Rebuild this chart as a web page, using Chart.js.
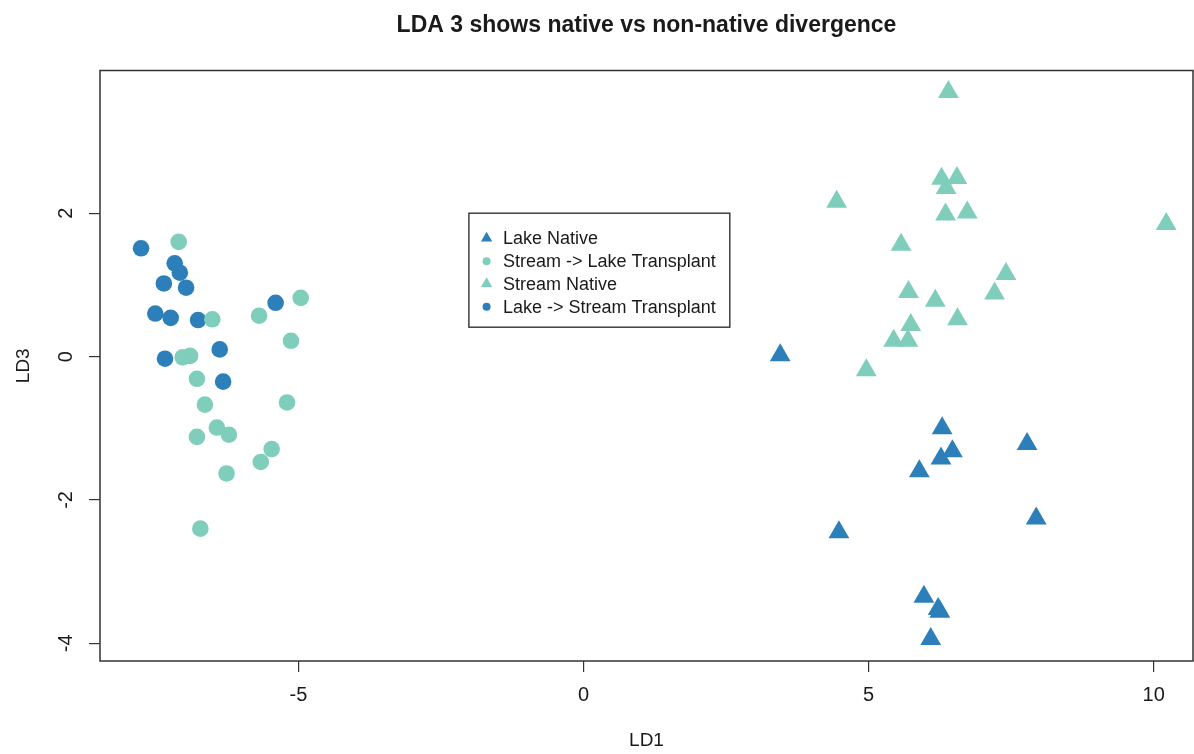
<!DOCTYPE html>
<html><head><meta charset="utf-8">
<script src="https://cdn.jsdelivr.net/npm/chart.js@4/dist/chart.umd.min.js"></script>
<style>html,body{margin:0;padding:0;background:#fff}canvas{display:block}</style>
</head><body>
<canvas id="c" width="1194" height="754"></canvas>
<script>
const chartTitle = 'LDA 3 shows native vs non-native divergence';
const xTitle = 'LD1';
const yTitle = 'LD3';
const xTicks = [-5, 0, 5, 10];
const yTicks = [-4, -2, 0, 2];
const seriesNames = ['Lake Native', 'Stream -> Lake Transplant', 'Stream Native', 'Lake -> Stream Transplant'];

const lakeNativeX = [3.45, 6.29, 7.78, 6.47, 6.27, 5.89, 7.94, 4.48, 5.97, 6.22, 6.25, 6.09];
const lakeNativeY = [0.02, -1.00, -1.22, -1.32, -1.42, -1.60, -2.26, -2.45, -3.35, -3.52, -3.56, -3.94];

const streamToLakeX = [-7.10, -6.51, -5.69, -4.96, -5.13, -7.03, -6.90, -6.78, -6.64, -5.20, -6.43, -6.22, -6.78, -5.47, -5.66, -6.26, -6.72];
const streamToLakeY = [1.60, 0.52, 0.57, 0.82, 0.22, -0.01, 0.01, -0.31, -0.67, -0.64, -0.99, -1.09, -1.12, -1.29, -1.47, -1.63, -2.40];

const streamNativeX = [6.40, 6.28, 6.55, 6.36, 4.44, 6.35, 6.73, 10.22, 5.57, 7.41, 7.21, 5.70, 6.17, 6.56, 5.74, 5.44, 5.69, 4.96];
const streamNativeY = [3.69, 2.48, 2.49, 2.35, 2.16, 1.98, 2.01, 1.85, 1.56, 1.15, 0.88, 0.90, 0.78, 0.52, 0.44, 0.22, 0.22, -0.19];

const lakeToStreamX = [-7.76, -7.17, -7.08, -7.36, -6.97, -7.51, -7.24, -6.76, -5.40, -6.38, -7.34, -6.32];
const lakeToStreamY = [1.51, 1.30, 1.17, 1.02, 0.96, 0.60, 0.54, 0.51, 0.75, 0.10, -0.03, -0.35];

const darkBlue = '#2c7fb8';
const teal = '#7fcdbb';
const pts = (xs, ys) => xs.map((x, i) => ({x: x, y: ys[i]}));

const seriesStyle = [
  {color: darkBlue, shape: 'triangle', r: 12, lr: 6.5},
  {color: teal, shape: 'circle', r: 8.3, lr: 4},
  {color: teal, shape: 'triangle', r: 12, lr: 6.5},
  {color: darkBlue, shape: 'circle', r: 8.3, lr: 4}
];
const seriesData = [
  pts(lakeNativeX, lakeNativeY),
  pts(streamToLakeX, streamToLakeY),
  pts(streamNativeX, streamNativeY),
  pts(lakeToStreamX, lakeToStreamY)
];

const textColor = '#1a1a1a';
const fontFam = '"Liberation Sans", Arial, sans-serif';

const decor = {
  id: 'decor',
  afterDatasetsDraw(chart) {
    const ctx = chart.ctx;
    const a = chart.chartArea;
    const xs = chart.scales.x, ys = chart.scales.y;
    ctx.save();
    // box
    ctx.strokeStyle = '#333';
    ctx.lineWidth = 1.5;
    ctx.strokeRect(a.left, a.top, a.right - a.left, a.bottom - a.top);
    ctx.fillStyle = textColor;
    ctx.font = '20px ' + fontFam;
    ctx.textAlign = 'center';
    ctx.textBaseline = 'middle';
    // x tick labels
    xTicks.forEach(v => {
      ctx.fillText(String(v), xs.getPixelForValue(v), a.bottom + 34);
    });
    // rotated y tick labels
    yTicks.forEach(v => {
      const py = ys.getPixelForValue(v);
      ctx.save();
      ctx.translate(66, py);
      ctx.rotate(-Math.PI / 2);
      ctx.fillText(String(v), 0, 0);
      ctx.restore();
    });
    // title
    ctx.font = 'bold 23px ' + fontFam;
    ctx.fillText(chartTitle, (a.left + a.right) / 2, 26);
    // legend anchored at data coords (-2, 2)
    const lx = xs.getPixelForValue(-2.01);
    const ly = ys.getPixelForValue(2.0);
    ctx.font = '18px ' + fontFam;
    let maxW = 0;
    seriesNames.forEach(n => { maxW = Math.max(maxW, ctx.measureText(n).width); });
    const boxW = 34 + maxW + 14;
    const boxH = 114;
    ctx.fillStyle = '#fff';
    ctx.fillRect(lx, ly, boxW, boxH);
    ctx.strokeStyle = '#222';
    ctx.lineWidth = 1.3;
    ctx.strokeRect(lx, ly, boxW, boxH);
    const rows = [25, 48, 70.5, 93.5];
    seriesNames.forEach((n, i) => {
      const st = seriesStyle[i];
      const cy = ly + rows[i];
      ctx.fillStyle = st.color;
      ctx.beginPath();
      if (st.shape === 'circle') {
        ctx.arc(lx + 17.7, cy, st.lr, 0, Math.PI * 2);
      } else {
        const r = st.lr;
        ctx.moveTo(lx + 17.7, cy - r);
        ctx.lineTo(lx + 17.7 + r * 0.866, cy + r / 2);
        ctx.lineTo(lx + 17.7 - r * 0.866, cy + r / 2);
        ctx.closePath();
      }
      ctx.fill();
      ctx.fillStyle = textColor;
      ctx.textAlign = 'left';
      ctx.fillText(n, lx + 34, cy + 1);
    });
    ctx.restore();
  }
};

new Chart(document.getElementById('c'), {
  type: 'scatter',
  data: {
    datasets: seriesNames.map((n, i) => ({
      label: n,
      data: seriesData[i],
      pointStyle: seriesStyle[i].shape,
      pointRadius: seriesStyle[i].r,
      pointHoverRadius: seriesStyle[i].r,
      backgroundColor: seriesStyle[i].color,
      borderWidth: 0
    }))
  },
  options: {
    responsive: false,
    animation: false,
    devicePixelRatio: 1,
    layout: {autoPadding: false, padding: {top: 70.5, right: 1, left: 0, bottom: 0}},
    plugins: {legend: {display: false}, tooltip: {enabled: false}, title: {display: false}},
    scales: {
      x: {
        type: 'linear',
        min: -8.48, max: 10.69,
        afterBuildTicks: s => { s.ticks = xTicks.map(v => ({value: v})); },
        afterFit: s => { s.height = 93; s.paddingLeft = 0; s.paddingRight = 0; },
        grid: {drawOnChartArea: false, drawTicks: true, tickLength: 11, color: '#333', lineWidth: 1.2},
        border: {display: false},
        ticks: {display: false},
        title: {display: true, text: xTitle, color: textColor, font: {size: 19, family: fontFam}, padding: {top: 0, bottom: 2}}
      },
      y: {
        type: 'linear',
        min: -4.246, max: 3.99,
        afterBuildTicks: s => { s.ticks = yTicks.map(v => ({value: v})); },
        afterFit: s => { s.width = 100; s.paddingTop = 0; s.paddingBottom = 0; },
        grid: {drawOnChartArea: false, drawTicks: true, tickLength: 11, color: '#333', lineWidth: 1.2},
        border: {display: false},
        ticks: {display: false},
        title: {display: true, text: yTitle, color: textColor, font: {size: 19, family: fontFam}, padding: {top: 12.6, bottom: 0}}
      }
    }
  },
  plugins: [decor]
});
</script>
</body></html>
